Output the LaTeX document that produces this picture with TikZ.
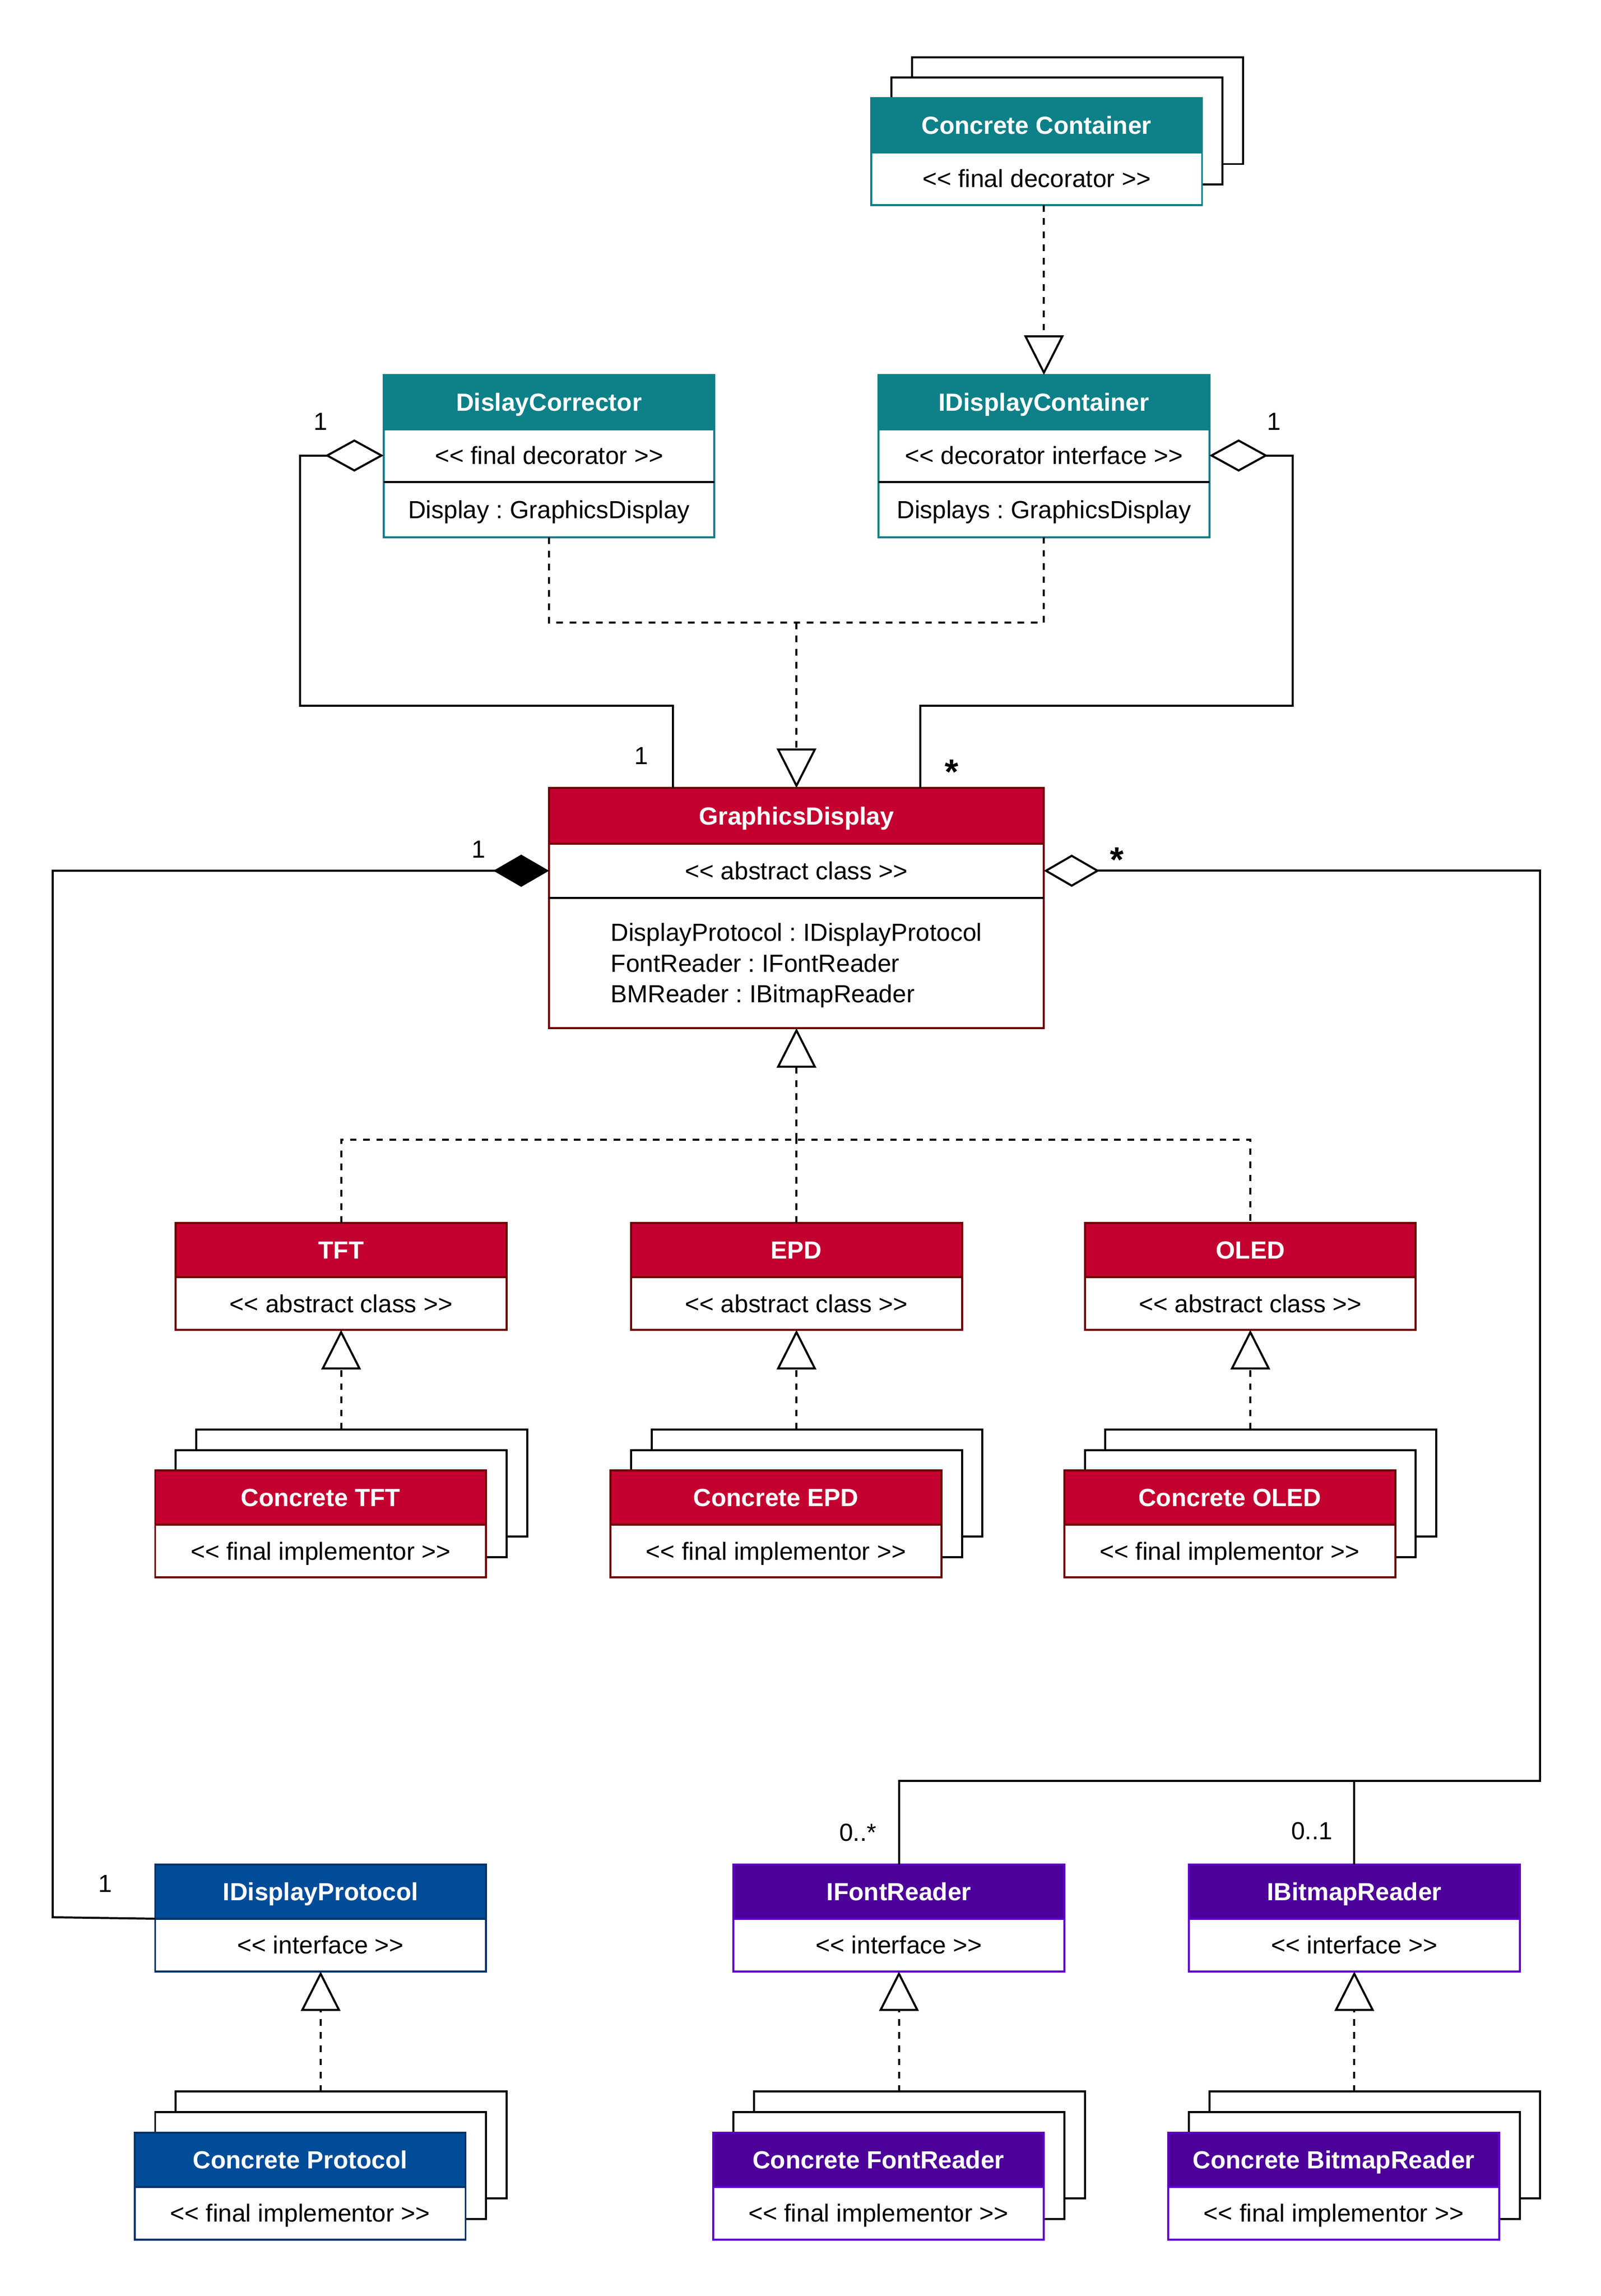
\documentclass[tikz,border=0pt]{standalone}
\usepackage{fontspec}
\setmainfont{Liberation Sans}
\usetikzlibrary{arrows.meta,calc}
\definecolor{tealF}{HTML}{0E8088}
\definecolor{tealS}{HTML}{0E8088}
\definecolor{redF}{HTML}{C3002F}
\definecolor{redS}{HTML}{6F0000}
\definecolor{blueF}{HTML}{004C99}
\definecolor{blueS}{HTML}{003366}
\definecolor{purF}{HTML}{4C0099}
\definecolor{purS}{HTML}{5E00C8}
\newcommand{\fs}{\fontsize{16.9}{21}\selectfont}
\newcommand{\mkcls}[7]{%
  \node[clshdr={#5}{#6}] (#1H) at (#2,#3) {#4};
  \node[clsrow=#6] (#1S) at (#1H.south) {#7};}
\newcommand{\mkstack}[7]{%
  \node[backbox] (#1B2) at ({#2+28},{#3-28}) {};
  \node[backbox] (#1B1) at ({#2+14},{#3-14}) {};
  \mkcls{#1}{#2}{#3}{#4}{#5}{#6}{#7}}
\frenchspacing
\begin{document}
\begin{tikzpicture}[x=1pt,y=-1pt,line width=1.4pt,
  clshdr/.style 2 args={fill=#1,draw=#2,text=white,font=\fs\bfseries,minimum width=226pt,minimum height=37pt,inner sep=0pt,outer sep=0pt,anchor=north west,text height=12pt,text depth=0pt},
  clsrow/.style={fill=white,draw=#1,font=\fs,minimum width=226pt,minimum height=36pt,inner sep=0pt,outer sep=0pt,anchor=north,text height=12pt,text depth=0pt},
  attrrow/.style={fill=white,draw=#1,font=\fs,minimum width=338pt,minimum height=89pt,inner sep=0pt,outer sep=0pt,anchor=north,align=left,text depth=0pt},
  backbox/.style={fill=white,draw=black,minimum width=226pt,minimum height=73pt,inner sep=0pt,outer sep=0pt,anchor=north west},
  dsh/.style={dash pattern=on 4.5pt off 4.5pt},
  inh/.style={-{Triangle[open,length=27pt,width=27pt,fill=white]}},
  agg/.style={-{Diamond[open,length=40pt,width=22pt,fill=white]}},
  comp/.style={{Diamond[length=38pt,width=22pt]}-},
  aggs/.style={{Diamond[open,length=38pt,width=22pt,fill=white]}-},
  lbl/.style={font=\fs,inner sep=0pt},
  star/.style={font=\fontsize{24}{24}\selectfont\bfseries,inner sep=0pt}]
\useasboundingbox (0,0) rectangle (1093.4,1567.6);
% top
\mkstack{cc}{595}{67}{Concrete Container}{tealF}{tealS}{<{}< final decorator >{}>}
\mkcls{dc}{262}{256}{DislayCorrector}{tealF}{tealS}{<{}< final decorator >{}>}
\node[clsrow=tealS,minimum height=38pt] (dcA) at (dcS.south) {Display : GraphicsDisplay};
\draw (dcA.north west) -- (dcA.north east);
\mkcls{idc}{600}{256}{IDisplayContainer}{tealF}{tealS}{<{}< decorator interface >{}>}
\node[clsrow=tealS,minimum height=38pt] (idcA) at (idcS.south) {Displays : GraphicsDisplay};
\draw (idcA.north west) -- (idcA.north east);
% GraphicsDisplay
\node[clshdr={redF}{redS},minimum width=338pt,minimum height=38pt] (gdH) at (375,538) {GraphicsDisplay};
\node[clsrow=redS,minimum width=338pt,minimum height=37pt] (gdS) at (gdH.south) {<{}< abstract class >{}>};
\node[attrrow=redS] (gdA) at (gdS.south) {DisplayProtocol : IDisplayProtocol\\FontReader : IFontReader\\BMReader : IBitmapReader};
\draw (gdA.north west) -- (gdA.north east);
% abstract classes
\mkcls{tft}{120}{835}{TFT}{redF}{redS}{<{}< abstract class >{}>}
\mkcls{epd}{431}{835}{EPD}{redF}{redS}{<{}< abstract class >{}>}
\mkcls{oled}{741}{835}{OLED}{redF}{redS}{<{}< abstract class >{}>}
\mkstack{ctft}{106}{1004}{Concrete TFT}{redF}{redS}{<{}< final implementor >{}>}
\mkstack{cepd}{417}{1004}{Concrete EPD}{redF}{redS}{<{}< final implementor >{}>}
\mkstack{coled}{727}{1004}{Concrete OLED}{redF}{redS}{<{}< final implementor >{}>}
% interfaces
\mkcls{idp}{106}{1273}{IDisplayProtocol}{blueF}{blueS}{<{}< interface >{}>}
\mkcls{ifr}{501}{1273}{IFontReader}{purF}{purS}{<{}< interface >{}>}
\mkcls{ibr}{812}{1273}{IBitmapReader}{purF}{purS}{<{}< interface >{}>}
\mkstack{cp}{92}{1456}{Concrete Protocol}{blueF}{blueS}{<{}< final implementor >{}>}
\mkstack{cfr}{487}{1456}{Concrete FontReader}{purF}{purS}{<{}< final implementor >{}>}
\mkstack{cbr}{798}{1456}{Concrete BitmapReader}{purF}{purS}{<{}< final implementor >{}>}
% connectors
\draw[dsh,inh] (ccS.south -| idcH.north) -- (idcH.north);
\coordinate (j1) at (544,425);
\draw[dsh] (dcA.south) |- (j1) -| (idcA.south);
\draw[dsh,inh] (j1) -- (gdH.north);
\coordinate (c1) at (205,482);
\coordinate (c2) at (883,482);
\draw[agg] ($(gdH.north west)!0.25!(gdH.north east)$) |- (c1) |- (dcS.west);
\draw[agg] ($(gdH.north west)!0.75!(gdH.north east)$) |- (c2) |- (idcS.east);
\coordinate (c3) at (36,1309);
\draw[comp] (gdS.west) -| (c3) -- (idpS.north west);
\coordinate (c4) at (1052,1216);
\draw[aggs] (gdS.east) -| (c4) -| (ifrH.north);
\draw (ibrH.north) -- (ibrH.north |- c4);
\coordinate (c5) at (544,778);
\draw[dsh,inh] (c5) -- (gdA.south);
\draw[dsh] (tftH.north) |- (c5) -| (oledH.north);
\draw[dsh] (epdH.north) -- (c5);
\draw[dsh,inh] (tftS.south |- ctftB2.north) -- (tftS.south);
\draw[dsh,inh] (epdS.south |- cepdB2.north) -- (epdS.south);
\draw[dsh,inh] (oledS.south |- coledB2.north) -- (oledS.south);
\draw[dsh,inh] (idpS.south |- cpB2.north) -- (idpS.south);
\draw[dsh,inh] (ifrS.south |- cfrB2.north) -- (ifrS.south);
\draw[dsh,inh] (ibrS.south |- cbrB2.north) -- (ibrS.south);
% multiplicities
\node[lbl] (m1) at (219,288) {1};
\node[lbl] (m2) at (870,288) {1};
\node[lbl] (m3) at (438,516) {1};
\node[star] (m4) at (650,527) {*};
\node[lbl] (m5) at (327,580) {1};
\node[star] (m6) at (763,587) {*};
\node[lbl] (m7) at (72,1286) {1};
\node[lbl] (m8) at (586,1251) {0..*};
\node[lbl] (m9) at (896,1250) {0..1};
\end{tikzpicture}
\end{document}
